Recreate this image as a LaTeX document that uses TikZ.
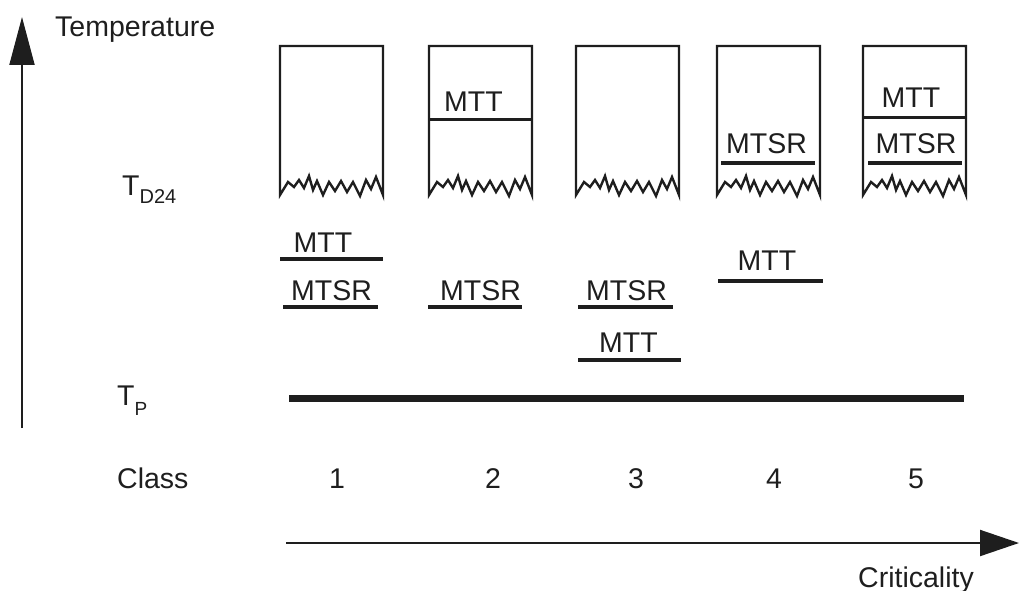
\documentclass[tikz,border=0pt]{standalone}
\usepackage{fontspec}
\setmainfont{Liberation Sans}
\usetikzlibrary{arrows.meta}
\definecolor{ink}{HTML}{1E1E1E}
\newcommand\critbox[2]{%
  \begin{scope}[shift={(#1,0)}]
    \draw[boxline] (0,195) -- (0,46) -- (103,46) -- (103,195)
      -- (96,177) -- (91,189) -- (86,180) -- (80,196) -- (73,182)
      -- (67,192) -- (61,181) -- (55,191) -- (49,182) -- (43,195)
      -- (37,181) -- (33,190) -- (29,176) -- (24,188) -- (19,180)
      -- (14,187) -- (8,182) -- cycle;
    \coordinate (#2) at (51.5,46);
  \end{scope}}
\begin{document}
\begin{tikzpicture}[x=1pt,y=-1pt,
  lbl/.style={inner sep=0pt, anchor=base, text=ink, font=\fontsize{28.5}{30}\selectfont},
  lblw/.style={lbl, anchor=base west},
  boxline/.style={draw=ink, line width=2.4pt, line join=miter},
  divline/.style={draw=ink, line width=3pt},
  mtsrline/.style={draw=ink, line width=4.5pt},
  mttline/.style={draw=ink, line width=3.5pt},
  tpline/.style={draw=ink, line width=7pt},
  axis/.style={draw=ink, line width=2pt},
]
\useasboundingbox (0,0) rectangle (1019,591);

% axes
\coordinate (ybot) at (22,428);
\coordinate (ytop) at (22,17);
\draw[axis, -{Triangle[length=48pt,width=25pt]}] (ybot) -- (ytop);
\coordinate (xl) at (286,543);
\coordinate (xr) at (1019,543);
\draw[axis, -{Triangle[length=39pt,width=26pt]}] (xl) -- (xr);

% axis labels
\node[lblw] (temp) at (55,37) {Temperature};
\node[lblw] (crit) at (858,587) {Criticality};
\node[lblw] (td24) at (122,195) {T\raisebox{-8pt}{\fontsize{20}{20}\selectfont D24}};
\node[lblw] (tp) at (117,405) {T\raisebox{-10pt}{\fontsize{19}{19}\selectfont P}};
\node[lblw] (class) at (117,488) {Class};
\node[lbl] (c1) at (337,488) {1};
\node[lbl] (c2) at (493,488) {2};
\node[lbl] (c3) at (636,488) {3};
\node[lbl] (c4) at (774,488) {4};
\node[lbl] (c5) at (916,488) {5};

% boxes
\critbox{280}{b1}
\critbox{429}{b2}
\critbox{576}{b3}
\critbox{717}{b4}
\critbox{863}{b5}

% box contents
\node[lbl] (b2mtt) at (473.5,112) {MTT};
\draw[divline] (429,120) -- (532,120);
\node[lbl] (b4mtsr) at (766.5,153) {MTSR};
\draw[mtsrline] (721,163) -- (815,163);
\node[lbl] (b5mtt) at (911,108) {MTT};
\draw[divline] (863,118) -- (966,118);
\node[lbl] (b5mtsr) at (916,153) {MTSR};
\draw[mtsrline] (868,163) -- (962,163);

% levels below
\node[lbl] (l1mtt) at (323,252) {MTT};
\draw[mttline] (280,259) -- (383,259);
\node[lbl] (l1mtsr) at (331.5,300) {MTSR};
\draw[mtsrline] (283,307) -- (378,307);
\node[lbl] (l2mtsr) at (480.5,300) {MTSR};
\draw[mtsrline] (428,307) -- (522,307);
\node[lbl] (l3mtsr) at (626.5,300) {MTSR};
\draw[mtsrline] (578,307) -- (673,307);
\node[lbl] (l3mtt) at (628.5,352) {MTT};
\draw[mttline] (578,360) -- (681,360);
\node[lbl] (l4mtt) at (767,270) {MTT};
\draw[mttline] (718,281) -- (823,281);

% T_P line
\coordinate (tpl) at (289,398);
\coordinate (tpr) at (964,398);
\draw[tpline] (tpl) -- (tpr);
\end{tikzpicture}
\end{document}
